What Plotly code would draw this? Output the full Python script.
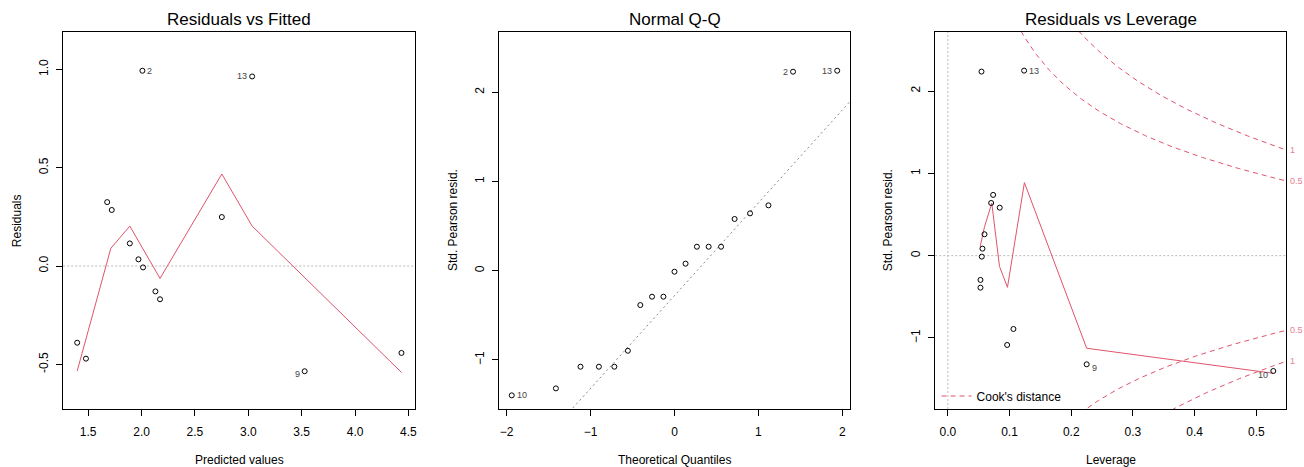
import plotly.graph_objects as go
import numpy as np

W, H = 1304, 467
RED = "#DF536B"
FONT = "Liberation Sans, Arial, sans-serif"

# ---------------- data ----------------
# Panel 1: Residuals vs Fitted
fitted = [1.397, 1.479, 1.678, 1.721, 1.890, 1.971, 2.014, 2.008, 2.130, 2.173, 2.752, 3.036, 3.528, 4.435]
resid = [-0.390, -0.471, 0.325, 0.285, 0.115, 0.034, -0.007, 0.993, -0.129, -0.169, 0.249, 0.964, -0.535, -0.442]
labels_fit = ["", "", "", "", "", "", "", "2", "", "", "", "13", "9", ""]
smooth_fit_x = [1.397, 1.712, 1.890, 2.173, 2.752, 3.036, 4.435]
smooth_fit_y = [-0.534, 0.090, 0.203, -0.063, 0.468, 0.203, -0.541]
x1_ticks = [1.5, 2.0, 2.5, 3.0, 3.5, 4.0, 4.5]
x1_ticktext = ["1.5", "2.0", "2.5", "3.0", "3.5", "4.0", "4.5"]
y1_ticks = [-0.5, 0.0, 0.5, 1.0]
y1_ticktext = ["-0.5", "0.0", "0.5", "1.0"]

# Panel 2: Normal Q-Q
theo_q = [-1.938, -1.412, -1.119, -0.900, -0.716, -0.555, -0.407, -0.267, -0.132, 0.0,
          0.132, 0.267, 0.407, 0.555, 0.716, 0.900, 1.119, 1.412, 1.938]
std_res_sorted = [-1.397, -1.319, -1.076, -1.076, -1.076, -0.897, -0.385, -0.291, -0.291, -0.011,
                  0.079, 0.269, 0.269, 0.269, 0.580, 0.643, 0.733, 2.231, 2.242]
labels_qq = ["10"] + [""] * 16 + ["2", "13"]
qq_slope = 1.041
qq_intercept = -0.279
x2_ticks = [-2, -1, 0, 1, 2]
y2_ticks = [-1, 0, 1, 2]

# Panel 3: Residuals vs Leverage
leverage = [0.0545, 0.1236, 0.0734, 0.0702, 0.0841, 0.0594, 0.0561, 0.0550, 0.0529, 0.0529, 0.1063, 0.0961, 0.2250, 0.5275]
std_res = [2.236, 2.248, 0.738, 0.640, 0.583, 0.260, 0.085, -0.012, -0.295, -0.389, -0.891, -1.085, -1.320, -1.401]
labels_lev = ["", "13", "", "", "", "", "", "", "", "", "", "", "9", "10"]
smooth_lev_x = [0.0524, 0.0594, 0.0712, 0.0837, 0.0966, 0.1241, 0.225, 0.5275]
smooth_lev_y = [0.11, 0.35, 0.637, -0.13, -0.385, 0.887, -1.125, -1.429]
cook_levels = [0.5, 1]
n_params = 2
x3_ticks = [0.0, 0.1, 0.2, 0.3, 0.4, 0.5]
x3_ticktext = ["0.0", "0.1", "0.2", "0.3", "0.4", "0.5"]
y3_ticks = [-1, 0, 1, 2]

# ---------------- layout geometry ----------------
def px_x(p):
    return p / W

def px_y(p):
    return 1 - p / H

dom_y = [px_y(409), px_y(32)]
dom_x1 = [px_x(63.3), px_x(416)]
dom_x2 = [px_x(500), px_x(851.7)]
dom_x3 = [px_x(936.7), px_x(1288.3)]
rng_x1, rng_y1 = [1.266, 4.565], [-0.727, 1.19]
rng_x2, rng_y2 = [-2.087, 2.095], [-1.55, 2.676]
rng_x3, rng_y3 = [-0.0204, 0.5486], [-1.863, 2.717]

fig = go.Figure()

def pts(x, y, xa, ya):
    fig.add_trace(go.Scatter(x=x, y=y, mode="markers", xaxis=xa, yaxis=ya, showlegend=False,
                             marker=dict(symbol="circle-open", size=5, color="black",
                                         line=dict(width=1, color="black"))))

def add_labels(x, y, labs, xa, ya, xmid, yshift_map=None):
    for xi, yi, lab in zip(x, y, labs):
        if not lab:
            continue
        right = xi <= xmid
        ys = (yshift_map or {}).get(lab, 0)
        fig.add_annotation(x=xi, y=yi, xref=xa, yref=ya, text=lab, showarrow=False,
                           xanchor="left" if right else "right", xshift=3 if right else -3,
                           yshift=ys, font=dict(size=9, color="#444", family=FONT))

# Panel 1
fig.add_trace(go.Scatter(x=smooth_fit_x, y=smooth_fit_y, mode="lines", xaxis="x", yaxis="y",
                         showlegend=False, line=dict(color=RED, width=1)))
pts(fitted, resid, "x", "y")
add_labels(fitted, resid, labels_fit, "x", "y", (min(fitted) + max(fitted)) / 2, {"9": -3})
fig.add_shape(type="line", xref="x domain", yref="y", x0=0, x1=1, y0=0, y1=0,
              line=dict(color="#BBBBBB", width=1, dash="2px,2px"), layer="below")

# Panel 2
qx = np.array([rng_x2[0] - 1, rng_x2[1] + 1])
fig.add_trace(go.Scatter(x=qx, y=qq_intercept + qq_slope * qx, mode="lines", xaxis="x2", yaxis="y2",
                         showlegend=False, line=dict(color="#888888", width=1, dash="2px,3px")))
pts(theo_q, std_res_sorted, "x2", "y2")
add_labels(theo_q, std_res_sorted, labels_qq, "x2", "y2", 0)

# Panel 3
hh = np.linspace(0.005, rng_x3[1], 201)
cx, cy = [], []
for lev in cook_levels:
    c = np.sqrt(lev * n_params * (1 - hh) / hh)
    for sgn in (1, -1):
        cx += list(hh) + [None]
        cy += list(sgn * c) + [None]
fig.add_trace(go.Scatter(x=cx, y=cy, mode="lines", xaxis="x3", yaxis="y3", name="Cook's distance",
                         showlegend=True, line=dict(color=RED, width=1, dash="5px,4px")))
fig.add_trace(go.Scatter(x=smooth_lev_x, y=smooth_lev_y, mode="lines", xaxis="x3", yaxis="y3",
                         showlegend=False, line=dict(color=RED, width=1)))
pts(leverage, std_res, "x3", "y3")
add_labels(leverage, std_res, labels_lev, "x3", "y3", (min(leverage) + max(leverage)) / 2,
           {"9": -4, "10": -4})
fig.add_shape(type="line", xref="x3 domain", yref="y3", x0=0, x1=1, y0=0, y1=0,
              line=dict(color="#BBBBBB", width=1, dash="2px,2px"), layer="below")
fig.add_shape(type="line", xref="x3", yref="y3 domain", x0=0, x1=0, y0=0, y1=1,
              line=dict(color="#BBBBBB", width=1, dash="2px,2px"), layer="below")
for lev in cook_levels:
    yv = float(np.sqrt(lev * n_params * (1 - rng_x3[1]) / rng_x3[1]))
    for sgn in (1, -1):
        fig.add_annotation(x=rng_x3[1], y=sgn * yv, xref="x3", yref="y3", text=str(lev),
                           showarrow=False, xanchor="left", xshift=2,
                           font=dict(size=9, color="#E8808F", family=FONT))

# Titles and axis labels
titles = ["Residuals vs Fitted", "Normal Q-Q", "Residuals vs Leverage"]
xlabels = ["Predicted values", "Theoretical Quantiles", "Leverage"]
ylabels = ["Residuals", "Std. Pearson resid.", "Std. Pearson resid."]
ylab_x = [16.7, 453.3, 889]
for d, t, xl, yl, yx in zip([dom_x1, dom_x2, dom_x3], titles, xlabels, ylabels, ylab_x):
    cxp = (d[0] + d[1]) / 2
    fig.add_annotation(x=cxp, y=px_y(20), xref="paper", yref="paper", text=t, showarrow=False,
                       xanchor="center", yanchor="middle", font=dict(size=17, color="black", family=FONT))
    fig.add_annotation(x=cxp, y=px_y(460), xref="paper", yref="paper", text=xl, showarrow=False,
                       xanchor="center", yanchor="middle", font=dict(size=12, color="black", family=FONT))
    fig.add_annotation(x=px_x(yx), y=(dom_y[0] + dom_y[1]) / 2, xref="paper", yref="paper", text=yl,
                       showarrow=False, textangle=-90, xanchor="center", yanchor="middle",
                       font=dict(size=12, color="black", family=FONT))

axis_common = dict(showline=True, mirror=True, linecolor="black", linewidth=1, ticks="outside",
                   ticklen=6, tickcolor="black", tickwidth=1, showgrid=False, zeroline=False,
                   tickfont=dict(size=12, color="black", family=FONT), fixedrange=True)
xaxis_common = dict(axis_common, ticklabelstandoff=6)
yaxis_common = dict(axis_common, tickangle=-90, ticklabelstandoff=3)

fig.update_layout(
    width=W, height=H, margin=dict(l=0, r=0, t=0, b=0),
    paper_bgcolor="white", plot_bgcolor="white",
    font=dict(family=FONT),
    xaxis=dict(xaxis_common, domain=dom_x1, range=rng_x1, tickvals=x1_ticks, ticktext=x1_ticktext, anchor="y"),
    yaxis=dict(yaxis_common, domain=dom_y, range=rng_y1, tickvals=y1_ticks, ticktext=y1_ticktext, anchor="x"),
    xaxis2=dict(xaxis_common, domain=dom_x2, range=rng_x2, tickvals=x2_ticks, anchor="y2"),
    yaxis2=dict(yaxis_common, domain=dom_y, range=rng_y2, tickvals=y2_ticks, anchor="x2"),
    xaxis3=dict(xaxis_common, domain=dom_x3, range=rng_x3, tickvals=x3_ticks, ticktext=x3_ticktext, anchor="y3"),
    yaxis3=dict(yaxis_common, domain=dom_y, range=rng_y3, tickvals=y3_ticks, anchor="x3"),
    legend=dict(x=px_x(938), y=px_y(396), xanchor="left", yanchor="middle", bgcolor="rgba(0,0,0,0)",
                borderwidth=0, font=dict(size=12, color="black", family=FONT),
                itemwidth=30, tracegroupgap=0),
)

fig.write_html("out.html")
